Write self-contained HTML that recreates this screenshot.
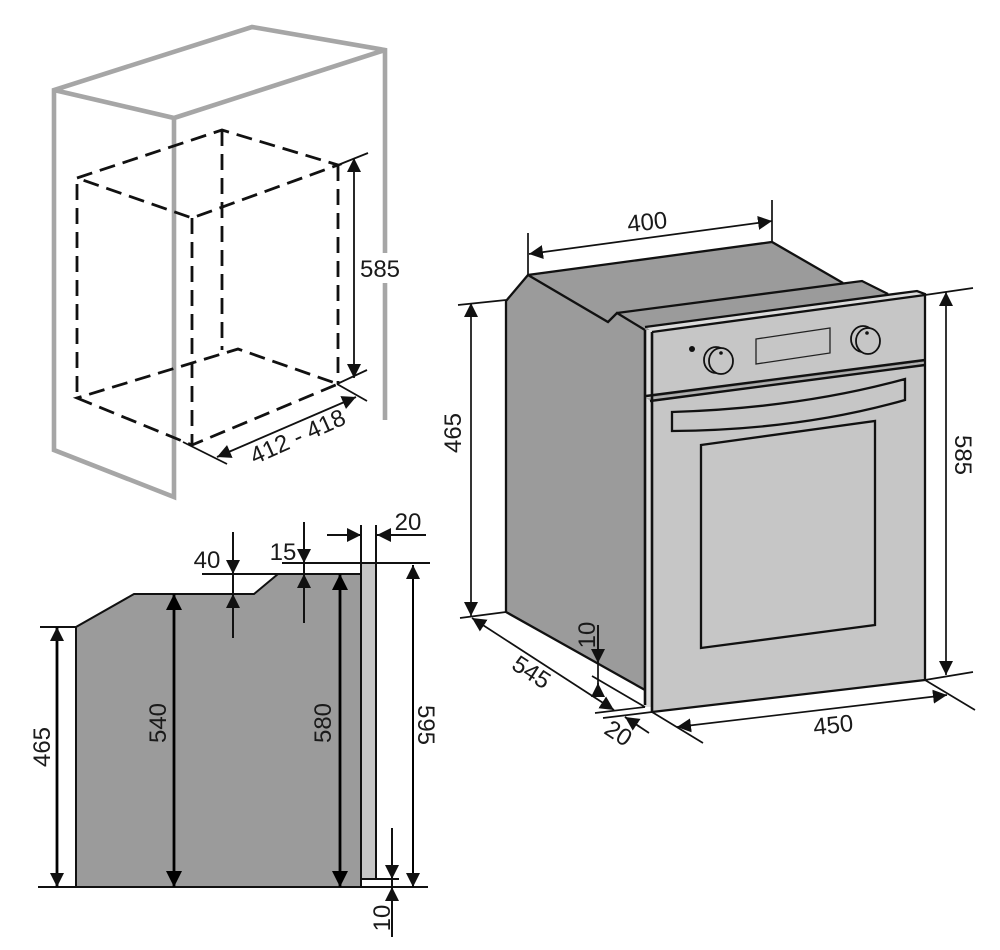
<!DOCTYPE html>
<html><head><meta charset="utf-8">
<style>html,body{margin:0;padding:0;background:#fff}svg{display:block}text{font-family:"Liberation Sans",sans-serif;font-size:24px;fill:#1a1a1a;text-anchor:middle}</style>
</head><body>
<svg width="1000" height="950" viewBox="0 0 1000 950" xmlns="http://www.w3.org/2000/svg">
<defs>
<marker id="a" viewBox="0 0 14 14" refX="14" refY="7" markerWidth="14" markerHeight="14" markerUnits="userSpaceOnUse" orient="auto-start-reverse"><path d="M0 0L14 7L0 14Z" fill="#111"/></marker>
<marker id="b" viewBox="0 0 16 16" refX="16" refY="8" markerWidth="16" markerHeight="16" markerUnits="userSpaceOnUse" orient="auto-start-reverse"><path d="M0 0L16 8L0 16Z" fill="#000"/></marker>
</defs>

<!-- cabinet -->
<g fill="none" stroke="#a6a6a6" stroke-width="4.6">
<path d="M385 420V50L252 27L54 90V450L174 497V118L54 90"/>
<path d="M174 118L385 50"/>
</g>
<rect x="378" y="253" width="14" height="30" fill="#fff"/>
<g fill="none" stroke="#111" stroke-width="2.8" stroke-dasharray="16 8">
<path d="M77 178L222 130L338 165L192 218Z"/>
<path d="M77 184V398M222 130V350M338 165V384M192 218V445"/>
<path d="M77 398L192 445L338 384L238 349Z"/>
</g>
<g fill="none" stroke="#111" stroke-width="1.8">
<path d="M338 165L368 153M337 384L367 370M337 384L367 401M183 442L227 464"/>
<path d="M354 158V378" marker-start="url(#a)" marker-end="url(#a)"/>
<path d="M217 457L356 397" marker-start="url(#a)" marker-end="url(#a)"/>
</g>
<text x="380" y="277">585</text>
<text transform="translate(301 444) rotate(-24)">412 - 418</text>

<!-- side view -->
<path d="M76 887V627L134 594H254L278 574H361V887Z" fill="#9b9b9b"/>
<path d="M361 564H376V878H361Z" fill="#c6c6c6"/>
<g fill="none" stroke="#111" stroke-width="2">
<path d="M76 887V627L134 594H254L278 574H361"/>
<path d="M361 525V887M376 525V878"/>
<path d="M202 574H278M282 563H430M38 887H428M361 879H399M40 627H76"/>
<path d="M327 535H361" marker-end="url(#a)"/>
<path d="M426 535H377" marker-end="url(#a)"/>
<path d="M233 532V574" marker-end="url(#a)"/>
<path d="M233 638V574"/>
<path d="M233 638V594" marker-end="url(#a)"/>
<path d="M304 522V563" marker-end="url(#a)"/>
<path d="M304 623V563"/>
<path d="M304 623V574" marker-end="url(#a)"/>
<path d="M392 828V879" marker-end="url(#a)"/>
<path d="M392 937V879"/>
<path d="M392 937V887" marker-end="url(#a)"/>
</g>
<g fill="none" stroke="#000" stroke-width="2.8">
<path d="M57 627V887" marker-start="url(#a)" marker-end="url(#a)"/>
<path d="M174 594V887" marker-start="url(#b)" marker-end="url(#b)"/>
<path d="M340 574V887" marker-start="url(#b)" marker-end="url(#b)"/>
<path d="M413 565V887" stroke-width="2" marker-start="url(#a)" marker-end="url(#a)"/>
</g>
<text x="207" y="568">40</text>
<text x="283" y="560">15</text>
<text x="408" y="530">20</text>
<text transform="translate(50 747) rotate(-90)">465</text>
<text transform="translate(166 723) rotate(-90)">540</text>
<text transform="translate(331 723) rotate(-90)">580</text>
<text transform="translate(418 725) rotate(90)">595</text>
<text transform="translate(390 918) rotate(-90)">10</text>

<!-- oven -->
<path d="M506 303L528 276L772 242L843 283L862 281L888 294L917 291L925 294V362L645 400V330L617 313L608 322Z" fill="#9b9b9b"/>
<path d="M506 301L528 275L608 322L617 313L645 330V690L506 612Z" fill="#9b9b9b"/>
<path d="M645 330H652V707H645Z" fill="#dedede"/>
<path d="M652 332L925 295V360L652 395Z" fill="#c6c6c6"/>
<path d="M645 326L917 291L925 295L652 332Z" fill="#dcdcdc"/>
<path d="M646 398L925 362V368L652 402Z" fill="#b0b0b0"/>
<path d="M652 402L925 365V680L652 712Z" fill="#c6c6c6"/>
<g fill="none" stroke="#111" stroke-width="2.3">
<path d="M506 612V301L528 275L772 242L843 283"/>
<path d="M528 275L608 322L617 313L645 330"/>
<path d="M617 313L862 281L888 294"/>
<path d="M506 612L645 690"/>
<path d="M645 327L917 291L925 294V680L652 712"/>
<path d="M652 332L925 295"/>
<path d="M645 330V705M652 332V712" stroke-width="2.6"/>
<path d="M646 396L925 360M650 401L925 365" stroke-width="2.4"/>
<path d="M672 412Q800 408 905 379V400Q800 430 672 431Z"/>
<path d="M701 445L875 421V625L701 648Z"/>
</g>
<path d="M756 339L830 328V353L756 364Z" fill="none" stroke="#222" stroke-width="1.3"/>
<circle cx="692" cy="349" r="3" fill="#111"/>
<g fill="#c6c6c6" stroke="#111" stroke-width="1.8">
<ellipse cx="716" cy="360" rx="12" ry="13"/><ellipse cx="721" cy="361" rx="12" ry="13"/>
<ellipse cx="863" cy="339" rx="12" ry="13"/><ellipse cx="868" cy="341" rx="12" ry="13"/>
</g>
<circle cx="721" cy="353" r="1.8" fill="#111"/><circle cx="867" cy="333" r="1.8" fill="#111"/>
<g fill="none" stroke="#111" stroke-width="1.7">
<path d="M528 233V275M772 200V242M458 305L506 300M460 618L506 612M925 295L973 288M925 680L973 672M652 712L703 743M925 680L975 710M592 676L645 707M595 713L645 707M603 718L652 712M625 717L649 733"/>
<path d="M529 254L772 221" marker-start="url(#a)" marker-end="url(#a)"/>
<path d="M471 303V616" marker-start="url(#a)" marker-end="url(#a)"/>
<path d="M946 292V675" marker-start="url(#a)" marker-end="url(#a)"/>
<path d="M472 618L614 710" marker-start="url(#a)" marker-end="url(#a)"/>
<path d="M677 727L947 695" marker-start="url(#a)" marker-end="url(#a)"/>
<path d="M598 625V697"/>
<path d="M598 625V663" marker-end="url(#a)"/>
<path d="M598 697V683" marker-end="url(#a)"/>
<path d="M640 727L625 717" marker-end="url(#a)"/>
</g>
<text transform="translate(648 230) rotate(-6)">400</text>
<text transform="translate(461 433) rotate(-90)">465</text>
<text transform="translate(955 455) rotate(90)">585</text>
<text transform="translate(527 679) rotate(33)">545</text>
<text transform="translate(614 740) rotate(33)">20</text>
<text transform="translate(595 635) rotate(-90)">10</text>
<text transform="translate(834 733) rotate(-6)">450</text>
</svg>
</body></html>
